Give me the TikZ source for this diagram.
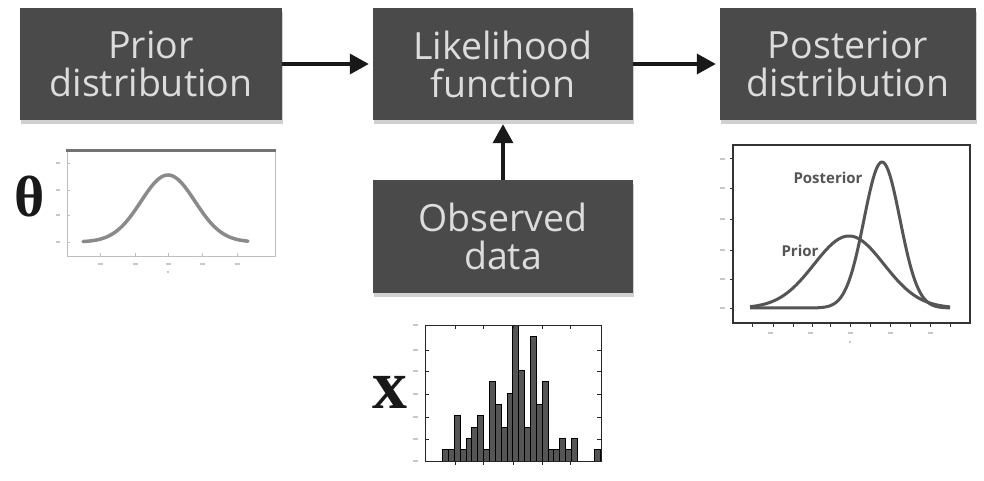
\documentclass[tikz,border=0pt]{standalone}
\usepackage{fontspec}
\setmainfont{Open Sans}
\newfontfamily\serifgr{Liberation Serif}
\usetikzlibrary{arrows.meta,shadows}
\definecolor{boxgray}{HTML}{4A4A4A}
\definecolor{boxtext}{HTML}{DCDCDC}
\definecolor{curvegray}{HTML}{8A8A8A}
\definecolor{darkcurve}{HTML}{555555}
\definecolor{framedark}{HTML}{333333}
\definecolor{barfill}{HTML}{555555}
\definecolor{blobgray}{HTML}{C8C8C8}
\begin{document}
\begin{tikzpicture}[x=1pt,y=-1pt,
  blk/.style={fill=boxgray, text=boxtext, align=center, inner sep=0pt,
    font=\fontsize{37.5}{38}\selectfont,
    drop shadow={shadow xshift=1pt, shadow yshift=-4pt, opacity=.3, fill=black!60}},
  arr/.style={line width=3.6pt, draw=black!90, shorten >=4pt, -{Triangle[length=19pt,width=20pt]}},
  blob/.style={draw=blobgray, line width=1.4pt},
  hbar/.style={fill=barfill, draw=black, line width=0.7pt}
]
\useasboundingbox (0,0) rectangle (984,481);
\fill[white] (0,0) rectangle (984,481);

% ---- boxes ----
\node[blk, minimum width=262pt, minimum height=112pt] (prior) at (151,64) {Prior\\distribution};
\node[blk, minimum width=260pt, minimum height=112pt] (lik) at (503,64) {Likelihood\\function};
\node[blk, minimum width=256pt, minimum height=112pt] (post) at (848,64) {Posterior\\distribution};
\node[blk, minimum width=260pt, minimum height=113pt] (obs) at (503,236.5) {Observed\\data};

% ---- arrows ----
\draw[arr] (prior) -- (lik);
\draw[arr] (lik) -- (post);
\draw[arr] (obs) -- (lik);

% ---- prior plot ----
\draw[draw=black!25, line width=0.8pt] (67,151) -- (67,256) -- (275,256) -- (275,151);
\draw[draw=black!55, line width=3pt] (66,151) -- (276,151);
\foreach \yy in {163,190,215,242} { \draw[draw=black!25] (67,\yy) -- (70,\yy); \draw[blob] (56,\yy) -- (60,\yy); }
\foreach \xx in {100,135,168,202,237} { \draw[draw=black!25] (\xx,256) -- (\xx,253); \draw[blob] ({\xx-2.5},264) -- ({\xx+2.5},264); }
\draw[blob] (167,272) -- (169,272);
\draw[draw=curvegray, line width=3.5pt, line cap=round]
  plot[domain=83:248, samples=90, smooth] (\x, {242 - 67*exp(max(-9,-0.5*((\x-168)/27)^2))});
\node[font=\serifgr\bfseries\fontsize{58}{58}\selectfont, text=black!90, inner sep=0pt] (theta) at (30,197) {θ};

% ---- posterior plot ----
\draw[draw=framedark, line width=1.6pt] (733,145) rectangle (970,323);
\foreach \xx in {752,773,793,812,830,850,870,890,910,930,950} { \draw[draw=framedark, line width=1pt] (\xx,323) -- (\xx,327); }
\foreach \xx in {770,810,850,890,930} { \draw[blob] ({\xx-2.5},333) -- ({\xx+2.5},333); }
\draw[blob] (849,342) -- (851,342);
\foreach \yy in {159,188,219,250,279,308} { \draw[draw=framedark, line width=1pt] (733,\yy) -- (730,\yy); \draw[blob] (720,\yy) -- (725,\yy); }
\draw[draw=darkcurve, line width=3pt, line join=round]
  plot[domain=750:950, samples=120, smooth] (\x, {308 - 72*exp(max(-9,-0.5*((\x-849)/35)^2))});
\draw[draw=darkcurve, line width=3pt, line join=round]
  plot[domain=750:950, samples=160, smooth] (\x, {308 - 146*exp(max(-9,-0.5*((\x-882)/18)^2))});
\node[font=\bfseries\fontsize{15}{15}\selectfont, text=darkcurve, inner sep=0pt] (postlab) at (828,178) {Posterior};
\node[font=\bfseries\fontsize{15}{15}\selectfont, text=darkcurve, inner sep=0pt] (priorlab) at (800,251) {Prior};

% ---- histogram ----
\foreach \h [count=\i from 0] in {0,0,0,1,1,4,1,2,3,4,1,7,5,3,6,12,8,3,11,5,7,1,1,2,1,2,0,0,0,1} {
  \ifnum\h>0
    \draw[hbar] ({425+\i*5.85},461) rectangle ({425+(\i+1)*5.85},{461-\h*11.33});
  \fi
}
\draw[draw=black!85, line width=1pt] (425,325) rectangle (601,461);
\foreach \xx in {455,483,513,542,570} { \draw[draw=black!85, line width=0.8pt] (\xx,325) -- (\xx,329); \draw[draw=black!85, line width=0.8pt] (\xx,461) -- (\xx,465); }
\foreach \yy in {350,371,394,417,439} { \draw[draw=black!85, line width=0.8pt] (425,\yy) -- (429,\yy); \draw[draw=black!85, line width=0.8pt] (601,\yy) -- (597,\yy); }
\foreach \yy in {325,350,371,394,417,439,461} { \draw[blob] (413,\yy) -- (418,\yy); }
\node[font=\serifgr\bfseries\fontsize{70}{70}\selectfont, text=black!90, inner sep=0pt] (xlab) at (390,392) {x};
\end{tikzpicture}
\end{document}
